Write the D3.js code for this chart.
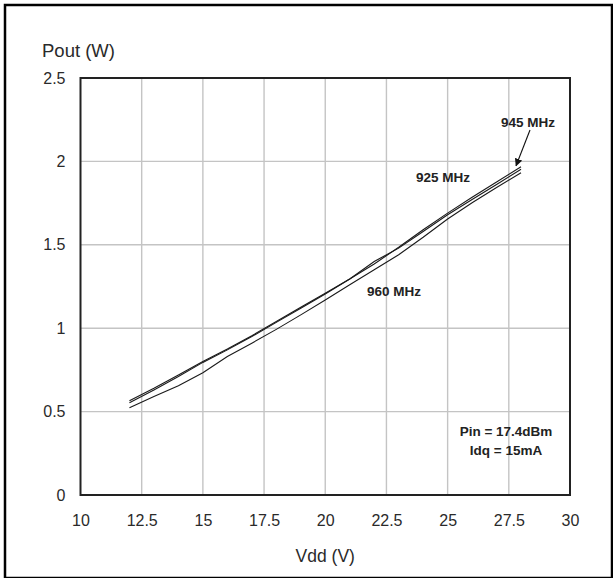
<!DOCTYPE html>
<html>
<head>
<meta charset="utf-8">
<script src="https://cdn.jsdelivr.net/npm/d3@7"></script>
<style>
  html, body { margin: 0; padding: 0; background: #fff; }
  svg { display: block; font-family: "Liberation Sans", Arial, sans-serif; }
</style>
</head>
<body>
<svg id="chart" width="613" height="578"></svg>
<script>
// ---- Data ----
const xTicks = [10, 12.5, 15, 17.5, 20, 22.5, 25, 27.5, 30];
const yTicks = [0, 0.5, 1, 1.5, 2, 2.5];
const xTickLabels = ["10", "12.5", "15", "17.5", "20", "22.5", "25", "27.5", "30"];
const yTickLabels = ["0", "0.5", "1", "1.5", "2", "2.5"];

const vdd945 = [12, 13, 14, 15, 16, 17, 18, 19, 20, 21, 22, 23, 24, 25, 26, 27, 28];
const pout945 = [0.565, 0.64, 0.72, 0.80, 0.875, 0.955, 1.04, 1.125, 1.21, 1.295, 1.385, 1.485, 1.59, 1.69, 1.785, 1.877, 1.968];

const vdd925 = [12, 13, 14, 15, 16, 17, 18, 19, 20, 21, 22, 23, 24, 25, 26, 27, 28];
const pout925 = [0.553, 0.63, 0.71, 0.795, 0.87, 0.95, 1.035, 1.12, 1.205, 1.295, 1.40, 1.48, 1.58, 1.68, 1.772, 1.862, 1.953];

const vdd960 = [12, 13, 14, 15, 16, 17, 18, 19, 20, 21, 22, 23, 24, 25, 26, 27, 28];
const pout960 = [0.523, 0.59, 0.655, 0.733, 0.83, 0.91, 0.993, 1.08, 1.169, 1.26, 1.35, 1.44, 1.545, 1.655, 1.752, 1.843, 1.932];

const seriesNames = ["945 MHz", "925 MHz", "960 MHz"];
const noteLines = ["Pin = 17.4dBm", "Idq = 15mA"];

// ---- Layout ----
const svg = d3.select("#chart");
const pL = 80.5, pR = 570, pT = 78, pB = 495;

const x = d3.scaleLinear().domain([10, 30]).range([pL, pR]);
const y = d3.scaleLinear().domain([0, 2.5]).range([pB, pT]);

// outer frame
svg.append("rect")
  .attr("x", 5).attr("y", 5).attr("width", 607).attr("height", 573)
  .attr("fill", "none").attr("stroke", "#000").attr("stroke-width", 2.5);

// gridlines
const grid = svg.append("g");
grid.selectAll("line.vx").data(xTicks.slice(1, -1)).enter().append("line")
  .attr("x1", d => x(d)).attr("x2", d => x(d))
  .attr("y1", pT).attr("y2", pB)
  .attr("stroke", "#c4c4c4").attr("stroke-width", 1.4);
grid.selectAll("line.hy").data(yTicks.slice(1, -1)).enter().append("line")
  .attr("x1", pL).attr("x2", pR)
  .attr("y1", d => y(d)).attr("y2", d => y(d))
  .attr("stroke", "#c4c4c4").attr("stroke-width", 1.4);

// axes (labels only, via d3 axes)
const xAxis = d3.axisBottom(x).tickValues(xTicks)
  .tickFormat((d, i) => xTickLabels[i]).tickSize(0).tickPadding(20);
const gx = svg.append("g").attr("transform", `translate(0,${pB})`).call(xAxis);
gx.select(".domain").remove();
gx.selectAll("text").attr("font-size", 16).attr("fill", "#2a2a2a")
  .attr("font-family", "Liberation Sans, Arial, sans-serif");

const yAxis = d3.axisLeft(y).tickValues(yTicks)
  .tickFormat((d, i) => yTickLabels[i]).tickSize(0).tickPadding(15);
const gy = svg.append("g").attr("transform", `translate(${pL},0)`).call(yAxis);
gy.select(".domain").remove();
gy.selectAll("text").attr("font-size", 16).attr("fill", "#2a2a2a")
  .attr("font-family", "Liberation Sans, Arial, sans-serif");

// plot border
svg.append("rect")
  .attr("x", pL).attr("y", pT).attr("width", pR - pL).attr("height", pB - pT)
  .attr("fill", "none").attr("stroke", "#222").attr("stroke-width", 2);

// series
const line = d3.line().x(d => x(d[0])).y(d => y(d[1]));
const series = [
  d3.zip(vdd945, pout945),
  d3.zip(vdd925, pout925),
  d3.zip(vdd960, pout960)
];
svg.append("g").selectAll("path").data(series).enter().append("path")
  .attr("d", line).attr("fill", "none")
  .attr("stroke", "#1a1a1a").attr("stroke-width", 1.1);

// axis titles
svg.append("text").attr("x", 42).attr("y", 57)
  .attr("font-size", 18.5).attr("fill", "#2a2a2a").text("Pout (W)");
svg.append("text").attr("x", (pL + pR) / 2).attr("y", 562)
  .attr("text-anchor", "middle").attr("font-size", 17.5).attr("fill", "#2a2a2a").text("Vdd (V)");

// series labels
const lab = svg.append("g").attr("font-size", 13.5).attr("font-weight", "bold").attr("fill", "#222");
lab.append("text").attr("x", 528).attr("y", 127).attr("text-anchor", "middle").text(seriesNames[0]);
lab.append("text").attr("x", 443).attr("y", 182).attr("text-anchor", "middle").text(seriesNames[1]);
lab.append("text").attr("x", 394).attr("y", 296).attr("text-anchor", "middle").text(seriesNames[2]);

// arrow
const defs = svg.append("defs");
defs.append("marker").attr("id", "ah").attr("viewBox", "0 0 10 10")
  .attr("refX", 9).attr("refY", 5).attr("markerWidth", 7).attr("markerHeight", 7)
  .attr("orient", "auto-start-reverse")
  .append("path").attr("d", "M0,0 L10,5 L0,10 z").attr("fill", "#111");
svg.append("line")
  .attr("x1", 530).attr("y1", 130)
  .attr("x2", x(28) - 5).attr("y2", y(pout945[pout945.length - 1]) - 1)
  .attr("stroke", "#111").attr("stroke-width", 1.1).attr("marker-end", "url(#ah)");

// note
const note = svg.append("g").attr("font-size", 13.5).attr("font-weight", "bold").attr("fill", "#222")
  .attr("text-anchor", "middle");
noteLines.forEach((t, i) => {
  note.append("text").attr("x", 506).attr("y", 436 + i * 19).text(t);
});
</script>
</body>
</html>
